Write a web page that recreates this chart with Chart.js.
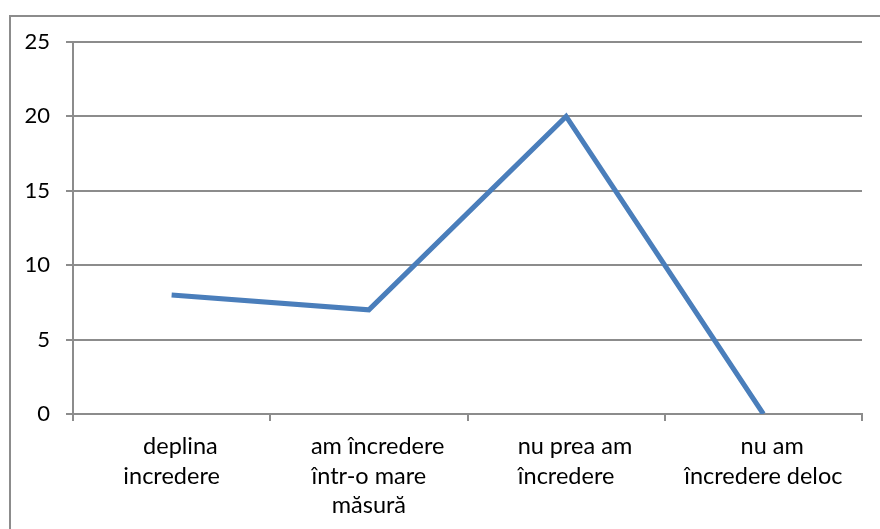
<!DOCTYPE html>
<html>
<head>
<meta charset="utf-8">
<script src="https://cdn.jsdelivr.net/npm/chart.js@4"></script>
<style>
  html, body { margin: 0; padding: 0; background: #fff; overflow: hidden; }
  #wrap { position: relative; width: 880px; height: 529px; }
  #frame { position: absolute; left: 9px; top: 15px; width: 1000px; height: 1000px; border: 2px solid #8c8c8c; }
  canvas { position: absolute; left: 0; top: 0; }
</style>
</head>
<body>
<div id="wrap">
  <div id="frame"></div>
  <canvas id="trust" width="880" height="529"></canvas>
</div>
<script>
// first lines carry a leading em space, the way the wrapped labels sit
const categories = [
    ['\u2003deplina', 'incredere'],
    ['\u2003am încredere', 'într-o mare', 'măsură'],
    ['\u2003nu prea am', 'încredere'],
    ['\u2003nu am', 'încredere deloc']
];
const values = [8, 7, 20, 0];
const yTicks = [0, 5, 10, 15, 20, 25];

const gridColor = '#8c8c8c';

function drawChart() {
    const ctx = document.getElementById('trust');

    const data = {
        labels: categories,
        datasets: [{
            data: values,
            borderColor: '#4a7ebb',
            borderWidth: 5,
            pointRadius: 0,
            tension: 0,
            fill: false
        }]
    };

    const config = {
        type: 'line',
        data: data,
        options: {
            responsive: false,
            animation: false,
            layout: { padding: { top: 42, right: 18, bottom: 0, left: 0 } },
            plugins: { legend: { display: false }, tooltip: { enabled: false } },
            scales: {
                x: {
                    offset: true,
                    grid: { offset: true, drawOnChartArea: false, color: gridColor, lineWidth: 2, tickLength: 7 },
                    border: { color: gridColor, width: 2 },
                    ticks: { color: '#000', maxRotation: 0, autoSkip: false, padding: 11,
                             font: { family: 'Lato', size: 23.5, lineHeight: 1.255 } },
                    afterFit: scale => { scale.height = 115; }
                },
                y: {
                    min: 0,
                    max: 25,
                    afterBuildTicks: scale => { scale.ticks = yTicks.map(v => ({ value: v })); },
                    grid: { color: gridColor, lineWidth: 2, tickLength: 7 },
                    border: { color: gridColor, width: 2 },
                    ticks: { color: '#000', padding: 16, font: { family: 'Lato', size: 22 } },
                    afterFit: scale => { scale.width = 73; }
                }
            }
        }
    };

    new Chart(ctx, config);
}

document.addEventListener('DOMContentLoaded', function () {
    drawChart();
});
</script>
</body>
</html>
